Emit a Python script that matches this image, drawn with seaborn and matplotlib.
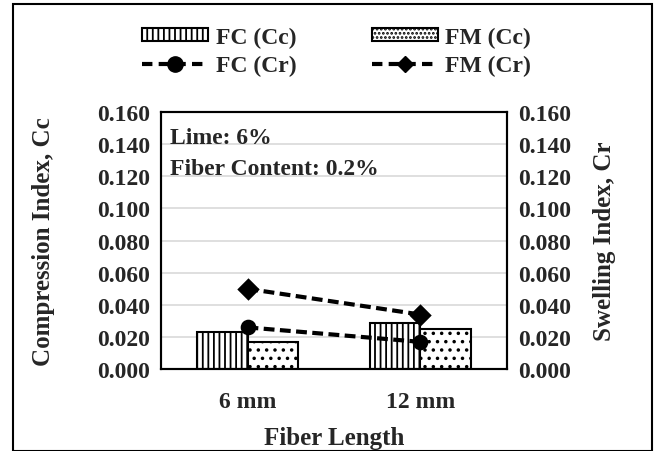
import matplotlib
matplotlib.use("Agg")
import matplotlib.pyplot as plt
import pandas as pd
import seaborn as sns
from matplotlib.patches import Rectangle

# datos
lengths = ["6 mm", "12 mm"]
fc_cc = [0.023, 0.029]
fm_cc = [0.017, 0.025]
fc_cr = [0.026, 0.017]
fm_cr = [0.050, 0.034]
y_ticks = [0.000, 0.020, 0.040, 0.060, 0.080, 0.100, 0.120, 0.140, 0.160]

sns.set_style("white")
plt.rcParams["font.family"] = ["Liberation Serif", "DejaVu Serif"]
plt.rcParams["font.weight"] = "bold"
plt.rcParams["hatch.linewidth"] = 1.3

cc_data = pd.DataFrame({
    "Length": lengths * 2,
    "Value": fc_cc + fm_cc,
    "Series": ["FC (Cc)"] * 2 + ["FM (Cc)"] * 2,
})
cr_data = pd.DataFrame({
    "Length": lengths * 2,
    "Value": fc_cr + fm_cr,
    "Series": ["FC (Cr)"] * 2 + ["FM (Cr)"] * 2,
})

fig = plt.figure(figsize=(6.6, 4.52), dpi=100)
ax = fig.add_axes([0.244, 0.181, 0.524, 0.569])

sns.barplot(ax=ax, data=cc_data, x="Length", y="Value", hue="Series",
            palette=["white", "white"], edgecolor="black", linewidth=1.5,
            width=0.58, gap=0, legend=False, zorder=2)
hatches = {"FC (Cc)": "|||", "FM (Cc)": ".."}
for cont, name in zip(ax.containers, ["FC (Cc)", "FM (Cc)"]):
    for bar in cont:
        bar.set_hatch(hatches[name])

ax.set_ylim(0, 0.16)
ax.set_yticks(y_ticks)
ax.set_yticklabels([f"{t:.3f}" for t in y_ticks])
ax.yaxis.grid(True, color="#d9d9d9", linewidth=1.2, zorder=0)
ax.set_axisbelow(True)
ax.set_xlabel("Fiber Length", fontsize=18, fontweight="bold", labelpad=10)
ax.set_ylabel("Compression Index, Cc", fontsize=18, fontweight="bold", labelpad=30)
ax.tick_params(axis="y", labelsize=17, length=0, pad=8)
ax.tick_params(axis="x", labelsize=17, length=0, pad=16)
for s in ax.spines.values():
    s.set_color("black")
    s.set_linewidth(1.5)

ax2 = ax.twinx()
sns.pointplot(ax=ax2, data=cr_data, x="Length", y="Value", hue="Series",
              palette=["black", "black"], markers=["o", "D"], linestyles="--",
              markersize=9, linewidth=3, legend=False)
for ln in ax2.lines:
    ln.set_dashes([2.6, 1.3])
ax2.set_ylim(0, 0.16)
ax2.set_yticks(y_ticks)
ax2.set_yticklabels([f"{t:.3f}" for t in y_ticks])
ax2.set_ylabel("Swelling Index, Cr", fontsize=18, fontweight="bold", labelpad=16)
ax2.tick_params(axis="y", labelsize=17, length=0, pad=8)
ax2.set_xlabel("")
for s in ax2.spines.values():
    s.set_color("black")
    s.set_linewidth(1.5)

for t in ax.get_xticklabels() + ax.get_yticklabels() + ax2.get_yticklabels():
    t.set_fontweight("bold")

ax.text(0.025, 0.94, "Lime: 6%\nFiber Content: 0.2%", transform=ax.transAxes,
        fontsize=17, fontweight="bold", va="top", ha="left", linespacing=1.6)

# leyenda
h_fc_cc = Rectangle((0, 0), 1, 1, facecolor="white", edgecolor="black", hatch="|||", linewidth=1.5)
h_fm_cc = Rectangle((0, 0), 1, 1, facecolor="white", edgecolor="black", hatch="....", linewidth=1.5)
h_fc_cr = plt.Line2D([], [], color="black", linestyle="--", dashes=[2.5, 1.5], linewidth=3,
                     marker="o", markersize=11)
h_fm_cr = plt.Line2D([], [], color="black", linestyle="--", dashes=[2.5, 1.5], linewidth=3,
                     marker="D", markersize=8)
fig.legend([h_fc_cc, h_fc_cr, h_fm_cc, h_fm_cr],
           ["FC (Cc)", "FC (Cr)", "FM (Cc)", "FM (Cr)"],
           ncol=2, loc="upper center", bbox_to_anchor=(0.51, 0.985),
           frameon=False, handlelength=2.8, handleheight=0.45,
           columnspacing=3.2, labelspacing=0.3, handletextpad=0.3,
           prop={"weight": "bold", "size": 17})

fig.patches.append(Rectangle((0.02, 0.0), 0.968, 0.988, transform=fig.transFigure,
                             fill=False, edgecolor="black", linewidth=1.5))

fig.savefig("out.png", dpi=100)
